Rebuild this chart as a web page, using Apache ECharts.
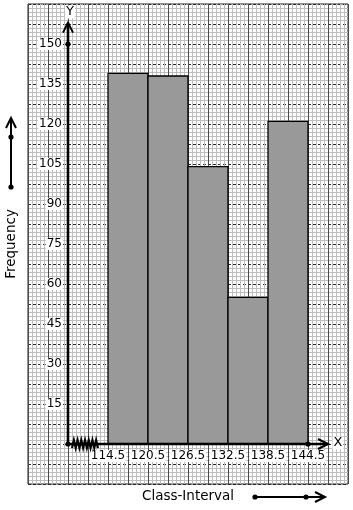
<!DOCTYPE html>
<html><head><meta charset="utf-8">
<script src="https://cdn.jsdelivr.net/npm/echarts@6/dist/echarts.min.js"></script>
<style>html,body{margin:0;padding:0;background:#fff}#c{width:353px;height:510px}</style>
</head><body><div id="c"></div>
<script>
// ---- data ----
const classEdges = [114.5, 120.5, 126.5, 132.5, 138.5, 144.5];
const frequencies = [139, 138, 104, 55, 121];
const yTickValues = [15, 30, 45, 60, 75, 90, 105, 120, 135, 150];
const xTickLabels = ['114.5', '120.5', '126.5', '132.5', '138.5', '144.5'];
const yTitle = 'Frequency';
const xTitle = 'Class-Interval';
// axis extents (broken x-axis: origin drawn at 108.5)
const xOrigin = 108.5;
const xMin = 102.5, xMax = 150.5;
const yMin = -15, yMax = 165;
const yArrowTip = 158, xArrowTip = 147.5;

const bars = frequencies.map((f, i) => [classEdges[i], classEdges[i + 1], f]);
const FONT = 'DejaVu Sans';

const chart = echarts.init(document.getElementById('c'), null, {renderer: 'canvas'});
const option = {
  animation: false,
  backgroundColor: '#fff',
  grid: [{left: 28, top: 4, width: 320, height: 480, show: true, borderColor: '#222', borderWidth: 1, backgroundColor: '#fff'}],
  xAxis: [
    { // graph paper
      type: 'value', gridIndex: 0, position: 'top', min: 0, max: 320, interval: 20, z: 0,
      axisLine: {show: false}, axisTick: {show: false}, axisLabel: {show: false},
      splitLine: {show: true, lineStyle: {color: '#4a4a4a', width: 1}},
      minorTick: {show: false, splitNumber: 5},
      minorSplitLine: {show: true, lineStyle: {color: '#bdbdbd', width: 1}}
    },
    { // data axis
      type: 'value', gridIndex: 0, position: 'bottom', offset: -40, min: xMin, max: xMax, z: 5,
      axisLine: {show: false, onZero: false}, axisTick: {show: false}, splitLine: {show: false},
      axisLabel: {
        show: true, customValues: classEdges, margin: 6,
        formatter: v => xTickLabels[classEdges.indexOf(v)] ?? String(v),
        color: '#000', fontFamily: FONT, fontSize: 12, backgroundColor: '#fff', padding: [0, 1]
      }
    }
  ],
  yAxis: [
    { // graph paper
      type: 'value', gridIndex: 0, position: 'right', min: 0, max: 480, interval: 20, z: 0,
      axisLine: {show: false}, axisTick: {show: false}, axisLabel: {show: false},
      splitLine: {show: true, lineStyle: {color: '#2a2a2a', width: 1, type: [3, 2]}},
      minorTick: {show: false, splitNumber: 5},
      minorSplitLine: {show: true, lineStyle: {color: '#bdbdbd', width: 1}}
    },
    { // data axis
      type: 'value', gridIndex: 0, position: 'left', offset: -40, min: yMin, max: yMax, z: 5,
      axisLine: {show: false, onZero: false}, axisTick: {show: false}, splitLine: {show: false},
      axisLabel: {
        show: true, customValues: yTickValues, margin: 5,
        color: '#000', fontFamily: FONT, fontSize: 12, backgroundColor: '#fff', padding: [0, 1]
      }
    }
  ],
  series: [{
    type: 'custom', xAxisIndex: 1, yAxisIndex: 1, z: 3,
    data: bars,
    renderItem: (params, api) => {
      const s = api.coord([api.value(0), 0]);
      const e = api.coord([api.value(1), api.value(2)]);
      return {
        type: 'rect',
        shape: {x: s[0], y: e[1], width: e[0] - s[0], height: s[1] - e[1]},
        style: {fill: '#999999', stroke: '#000', lineWidth: 1.3}
      };
    }
  }]
};
chart.setOption(option);

const P = (x, y) => chart.convertToPixel({xAxisIndex: 1, yAxisIndex: 1}, [x, y]);
const o = P(xOrigin, 0);
const yt = P(xOrigin, yArrowTip);
const xt = P(xArrowTip, 0);
const y150 = P(xOrigin, 150);
const xLast = P(classEdges[classEdges.length - 1], 0);
const zigStart = o[0] + 4, zigEnd = o[0] + 30;
const zig = [];
const nZ = 14;
for (let i = 0; i <= nZ; i++) {
  zig.push([zigStart + (zigEnd - zigStart) * i / nZ, o[1] + (i % 2 === 0 ? 4 : -4)]);
}
const K = {stroke: '#000', fill: null, lineWidth: 2};
const dot = (x, y) => ({type: 'circle', shape: {cx: x, cy: y, r: 2.6}, style: {fill: '#000'}, z: 110});
const g = [
  {type: 'line', shape: {x1: o[0], y1: o[1], x2: o[0], y2: yt[1]}, style: {stroke: '#000', lineWidth: 2.6}, z: 100},
  {type: 'polyline', shape: {points: [[o[0] - 5, yt[1] + 10], [o[0], yt[1]], [o[0] + 5, yt[1] + 10]]}, style: K, z: 100},
  {type: 'line', shape: {x1: o[0], y1: o[1], x2: xt[0], y2: xt[1]}, style: {stroke: '#000', lineWidth: 2.6}, z: 100},
  {type: 'polyline', shape: {points: [[xt[0] - 10, xt[1] - 5], [xt[0], xt[1]], [xt[0] - 10, xt[1] + 5]]}, style: K, z: 100},
  {type: 'polyline', shape: {points: zig}, style: {stroke: '#000', fill: null, lineWidth: 2.2}, z: 101},
  dot(o[0], o[1]), dot(xLast[0], xLast[1]), dot(y150[0], y150[1]),
  {type: 'text', x: yt[0] + 2, y: 12, style: {text: 'Y', font: '13px "DejaVu Sans"', fill: '#000', align: 'center', verticalAlign: 'middle', backgroundColor: '#fff', padding: [0, 1]}, z: 100},
  {type: 'text', x: xt[0] + 10, y: xt[1] - 1, style: {text: 'X', font: '13px "DejaVu Sans"', fill: '#000', align: 'center', verticalAlign: 'middle', backgroundColor: '#fff', padding: [0, 1]}, z: 100},
  // left title + arrow
  {type: 'text', x: 11, y: 244, rotation: Math.PI / 2, style: {text: yTitle, font: '13.5px "DejaVu Sans"', fill: '#000', align: 'center', verticalAlign: 'middle'}, z: 100},
  {type: 'line', shape: {x1: 11, y1: 118, x2: 11, y2: 187}, style: {stroke: '#000', lineWidth: 2}, z: 100},
  {type: 'polyline', shape: {points: [[6, 128], [11, 118], [16, 128]]}, style: K, z: 100},
  dot(11, 137), dot(11, 187),
  // bottom title + arrow
  {type: 'text', x: 188, y: 496, style: {text: xTitle, font: '13.5px "DejaVu Sans"', fill: '#000', align: 'center', verticalAlign: 'middle'}, z: 100},
  {type: 'line', shape: {x1: 255, y1: 497, x2: 325, y2: 497}, style: {stroke: '#000', lineWidth: 2}, z: 100},
  {type: 'polyline', shape: {points: [[315, 492], [325, 497], [315, 502]]}, style: K, z: 100},
  dot(255, 497), dot(306, 497)
];
chart.setOption({graphic: {elements: g}});
</script>
</body></html>
